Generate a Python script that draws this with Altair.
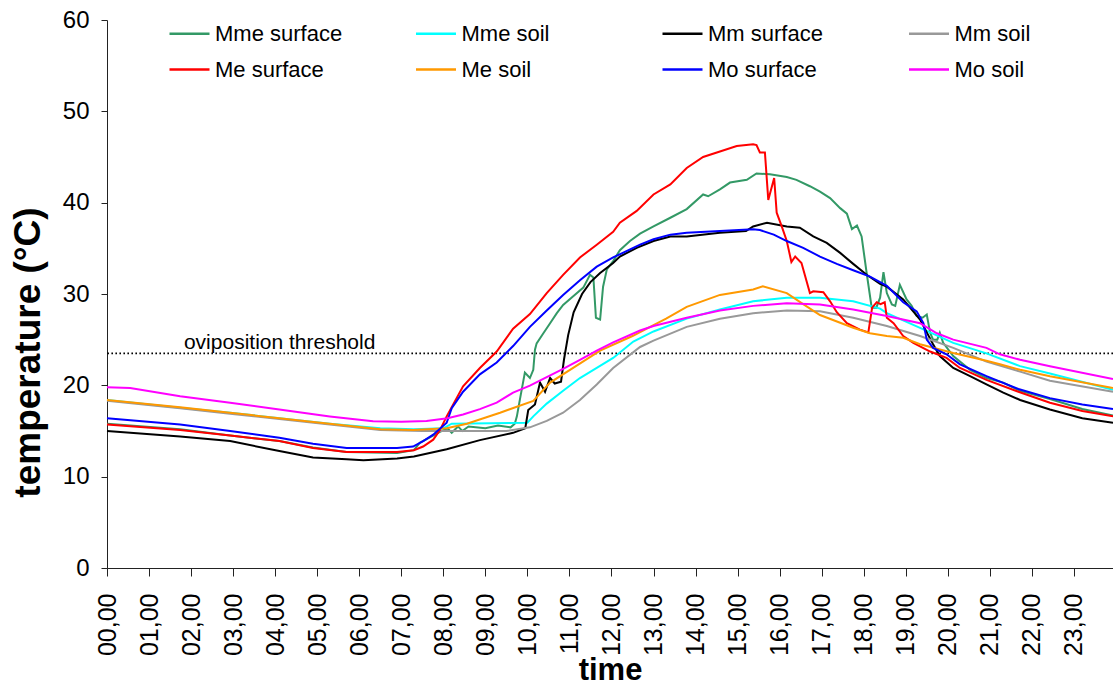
import altair as alt
import pandas as pd

FONT = "Liberation Sans"

SERIES = ["Mme surface", "Mme soil", "Mm surface", "Mm soil",
          "Me surface", "Me soil", "Mo surface", "Mo soil"]
COLORS = ["#339966", "#00FFFF", "#000000", "#999999",
          "#FF0000", "#FF9900", "#0000FF", "#FF00FF"]
# legend is filled column by column (2 rows x 4 columns)
LEGEND_ORDER = ["Mme surface", "Me surface", "Mme soil", "Me soil",
                "Mm surface", "Mo surface", "Mm soil", "Mo soil"]

HOUR_TICKS = list(range(24))
TEMP_TICKS = [0, 10, 20, 30, 40, 50, 60]
THRESHOLD = [23.5]
THRESHOLD_LABEL = ["oviposition threshold"]

# hours of day, temperatures (degC)
MME_SURF_T = [0, 1.74, 2.93, 4.1, 4.9, 5.7, 6.9, 7.3, 7.44, 7.68, 7.92, 8.1, 8.2, 8.35, 8.45, 8.6,
              9.0, 9.3, 9.6, 9.7, 9.75, 9.82, 9.94, 10.06, 10.14, 10.18, 10.22, 10.38, 10.54, 10.7, 10.85, 11.09,
              11.33, 11.49, 11.57, 11.63, 11.73, 11.8, 11.89, 12.04, 12.2, 12.44, 12.68, 13.0, 13.4, 13.79, 14.18, 14.3,
              14.58, 14.82, 15.22, 15.45, 15.77, 16.17, 16.4, 16.72, 16.96, 17.2, 17.44, 17.6, 17.72, 17.84, 17.95, 18.07,
              18.19, 18.3, 18.39, 18.47, 18.55, 18.67, 18.75, 18.86, 19.02, 19.14, 19.26, 19.4, 19.5, 19.58, 19.65, 19.75,
              19.81, 19.89, 20.13, 20.53, 20.92, 21.32, 21.72, 22.43, 23.2, 23.93]
MME_SURF_V = [15.8, 15.2, 14.5, 13.9, 13.2, 12.7, 12.6, 12.9, 13.7, 14.3, 14.9, 15.3, 14.8, 15.5, 15.0, 15.5,
              15.3, 15.6, 15.4, 15.8, 16.6, 18.4, 21.4, 20.8, 21.7, 23.9, 24.6, 25.7, 26.8, 27.9, 28.8, 29.75,
              30.7, 32.1, 31.8, 27.4, 27.2, 30.8, 32.7, 33.6, 34.8, 35.8, 36.6, 37.4, 38.35, 39.3, 40.9, 40.7,
              41.45, 42.2, 42.5, 43.2, 43.1, 42.8, 42.5, 41.8, 41.2, 40.5, 39.4, 38.8, 37.1, 37.5, 36.3, 32.3,
              28.5, 28.5, 29.6, 32.4, 30.1, 28.85, 28.7, 31.0, 29.4, 28.7, 27.6, 27.4, 27.75, 25.75, 25.0, 25.0,
              25.75, 24.65, 23.2, 21.7, 20.8, 20.3, 19.4, 18.5, 17.4, 16.7]

MME_SOIL_T = [0, 1.74, 2.93, 4.1, 5.3, 6.5, 7.3, 8.0, 8.2, 10.0, 10.14, 10.46, 10.85, 11.25, 11.65, 12.04,
              12.52, 13.0, 13.79, 14.58, 15.37, 16.17, 16.96, 17.75, 18.39, 18.55, 19.34, 20.13, 20.92, 21.72, 22.43, 23.93]
MME_SOIL_V = [18.4, 17.55, 17.0, 16.4, 15.8, 15.3, 15.2, 15.3, 15.8, 15.9, 16.6, 18.0, 19.4, 20.8, 21.9, 23.0,
              24.8, 25.9, 27.3, 28.3, 29.2, 29.6, 29.6, 29.2, 28.4, 27.9, 26.3, 24.65, 23.5, 22.1, 21.3, 19.5]

MM_SURF_T = [0, 1.74, 2.93, 4.1, 4.9, 5.7, 6.1, 6.9, 7.3, 8.08, 8.87, 9.66, 9.95, 10.02, 10.18, 10.3,
             10.42, 10.54, 10.65, 10.8, 10.87, 10.97, 11.1, 11.3, 11.5, 11.73, 12.04, 12.2, 12.6, 13.0, 13.4, 13.79,
             14.58, 15.2, 15.37, 15.7, 16.17, 16.48, 16.8, 17.12, 17.44, 17.75, 18.07, 18.39, 18.55, 18.94, 19.34, 19.5,
             19.65, 19.81, 20.13, 20.53, 20.92, 21.32, 21.72, 22.43, 23.2, 23.93]
MM_SURF_V = [15.0, 14.4, 13.9, 12.8, 12.1, 11.9, 11.8, 12.0, 12.2, 13.0, 14.0, 14.8, 15.3, 17.3, 17.9, 20.3,
             19.3, 20.8, 20.2, 20.4, 22.8, 25.5, 28.0, 30.0, 31.3, 32.3, 33.4, 34.1, 35.05, 35.8, 36.3, 36.3,
             36.7, 36.9, 37.4, 37.8, 37.4, 37.25, 36.3, 35.6, 34.5, 33.3, 32.1, 31.1, 30.8, 29.4, 27.2, 25.8,
             24.5, 23.2, 21.9, 21.0, 20.1, 19.2, 18.4, 17.35, 16.4, 15.9]

MM_SOIL_T = [0, 1.74, 2.93, 4.1, 5.3, 6.5, 7.5, 9.5, 10.06, 10.46, 10.85, 11.25, 11.65, 12.04, 12.68, 13.0,
             13.79, 14.58, 15.37, 16.17, 16.96, 17.75, 18.55, 19.34, 20.13, 20.92, 21.72, 22.43, 23.93]
MM_SOIL_V = [18.3, 17.5, 16.9, 16.3, 15.7, 15.1, 15.0, 15.0, 15.4, 16.1, 17.0, 18.4, 20.1, 21.9, 24.2, 24.9,
             26.4, 27.3, 27.9, 28.2, 28.1, 27.4, 26.5, 25.4, 24.1, 22.6, 21.5, 20.5, 19.3]

ME_SURF_T = [0, 1.74, 2.93, 4.1, 4.9, 5.7, 6.9, 7.3, 7.52, 7.76, 7.92, 8.08, 8.47, 8.87, 9.27, 9.66,
             10.06, 10.46, 10.85, 11.25, 11.65, 12.04, 12.2, 12.6, 13.0, 13.4, 13.79, 14.18, 14.58, 14.98, 15.37, 15.45,
             15.53, 15.65, 15.73, 15.87, 15.93, 16.05, 16.17, 16.28, 16.37, 16.52, 16.72, 16.8, 17.04, 17.2, 17.36, 17.6,
             17.91, 18.11, 18.2, 18.31, 18.4, 18.5, 18.55, 18.71, 18.94, 19.18, 19.58, 19.97, 20.29, 20.92, 21.68, 22.43,
             23.2, 23.93]
ME_SURF_V = [15.7, 15.1, 14.5, 13.9, 13.15, 12.7, 12.7, 12.9, 13.3, 14.05, 15.1, 16.6, 19.9, 21.9, 23.7, 26.2,
             27.8, 30.1, 32.1, 34.0, 35.4, 36.8, 37.8, 39.1, 40.9, 42.0, 43.8, 45.0, 45.6, 46.2, 46.4, 46.3,
             45.5, 45.5, 40.3, 42.7, 38.9, 37.4, 35.8, 33.5, 34.1, 33.4, 30.1, 30.3, 30.2, 29.2, 28.0, 26.8,
             26.1, 25.8, 28.5, 29.1, 28.9, 29.1, 27.4, 26.8, 25.4, 24.65, 23.7, 23.0, 21.9, 20.6, 19.3, 18.1,
             17.2, 16.6]

ME_SOIL_T = [0, 1.74, 2.93, 4.1, 5.3, 6.5, 7.28, 8.08, 8.56, 9.35, 10.14, 10.54, 11.73, 12.5, 13.0, 13.3,
             13.79, 14.58, 15.37, 15.6, 16.17, 16.56, 16.96, 17.75, 18.15, 18.55, 18.94, 19.34, 20.13, 20.92, 21.24, 21.72,
             22.43, 23.93]
ME_SOIL_V = [18.4, 17.6, 17.0, 16.4, 15.8, 15.2, 15.1, 15.3, 15.8, 17.0, 18.3, 20.3, 23.8, 25.4, 26.6, 27.3,
             28.6, 29.9, 30.5, 30.85, 30.1, 28.9, 27.7, 26.3, 25.7, 25.4, 25.2, 24.5, 23.55, 22.7, 22.3, 21.7,
             21.0, 19.7]

MO_SURF_T = [0, 1.74, 2.93, 4.1, 4.9, 5.7, 6.9, 7.28, 7.52, 7.76, 8.08, 8.2, 8.47, 8.87, 9.27, 9.66,
             10.06, 10.46, 10.85, 11.25, 11.65, 12.04, 12.68, 13.0, 13.4, 13.79, 14.58, 15.37, 15.53, 15.86, 16.17, 16.56,
             16.96, 17.36, 17.75, 18.15, 18.55, 18.94, 19.26, 19.42, 19.5, 19.65, 19.97, 20.29, 20.92, 21.68, 22.43, 23.2,
             23.93]
MO_SURF_V = [16.4, 15.7, 15.0, 14.25, 13.6, 13.15, 13.15, 13.3, 13.9, 14.6, 15.9, 17.5, 19.3, 21.2, 22.5, 24.3,
             26.4, 28.2, 29.9, 31.5, 33.0, 34.0, 35.4, 36.0, 36.5, 36.7, 36.9, 37.1, 37.0, 36.5, 35.8, 35.05,
             34.1, 33.3, 32.6, 31.9, 30.9, 29.1, 28.1, 26.8, 25.0, 24.1, 23.4, 22.3, 21.0, 19.6, 18.6, 17.9,
             17.4]

MO_SOIL_T = [0, 0.55, 1.74, 2.93, 4.1, 5.3, 6.33, 7.0, 7.6, 8.1, 8.47, 8.87, 9.27, 9.66, 10.06, 10.46,
             10.85, 11.25, 11.65, 12.04, 12.68, 13.0, 13.79, 14.58, 15.37, 16.17, 16.96, 17.75, 18.55, 19.34, 19.74, 20.13,
             20.92, 21.24, 21.72, 22.43, 23.93]
MO_SOIL_V = [19.8, 19.7, 18.8, 18.1, 17.35, 16.6, 16.06, 16.0, 16.1, 16.4, 16.8, 17.4, 18.1, 19.2, 19.97, 20.9,
             21.8, 22.8, 23.8, 24.7, 26.0, 26.5, 27.4, 28.2, 28.7, 29.0, 28.85, 28.3, 27.6, 26.8, 25.7, 25.0,
             24.1, 23.4, 22.8, 22.1, 20.7]

PAIRS = [(MME_SURF_T, MME_SURF_V), (MME_SOIL_T, MME_SOIL_V), (MM_SURF_T, MM_SURF_V), (MM_SOIL_T, MM_SOIL_V),
         (ME_SURF_T, ME_SURF_V), (ME_SOIL_T, ME_SOIL_V), (MO_SURF_T, MO_SURF_V), (MO_SOIL_T, MO_SOIL_V)]

rows = []
for name, (ts, vs) in zip(SERIES, PAIRS):
    if len(ts) != len(vs):
        raise ValueError(f"{name}: {len(ts)} times vs {len(vs)} values")
    for i, (t, v) in enumerate(zip(ts, vs)):
        rows.append({"series": name, "hour": t, "temp": v, "idx": i})
df = pd.DataFrame(rows)

color_of = dict(zip(SERIES, COLORS))
legend_colors = [color_of[s] for s in LEGEND_ORDER]

x_scale = alt.Scale(domain=[0, 23.93], nice=False, zero=False)
y_scale = alt.Scale(domain=[0, 60], nice=False)

x_axis = alt.Axis(
    values=HOUR_TICKS,
    labelExpr="(datum.value < 10 ? '0' : '') + datum.value + ',00'",
    labelAngle=270, labelFontSize=25, labelFont=FONT, labelColor="black",
    labelPadding=17, labelOverlap=False, labelFlush=False,
    tickSize=8, tickColor="#222222", domainColor="#222222", grid=False,
    title="time", titleFont=FONT, titleFontSize=31, titleFontWeight="bold",
    titleColor="black", titlePadding=0,
)
y_axis = alt.Axis(
    values=TEMP_TICKS, labelFontSize=24, labelFont=FONT, labelColor="black",
    labelPadding=12, tickSize=6, tickColor="#222222", domainColor="#222222", grid=False,
    title="temperature (°C)", titleFont=FONT, titleFontSize=37, titleFontWeight="bold",
    titleColor="black", titleX=-60, titleY=332,
)

legend = alt.Legend(
    title=None, orient="none", legendX=71, legendY=2, columns=4, gridAlign="all",
    symbolType="M-2,0H2", symbolSize=400, symbolStrokeWidth=2.5,
    labelFont=FONT, labelFontSize=22, labelColor="black", labelOffset=14,
    columnPadding=67.5, rowPadding=13, padding=0,
)

lines = alt.Chart(df).mark_line(strokeWidth=2, interpolate="linear").encode(
    x=alt.X("hour:Q", scale=x_scale, axis=x_axis),
    y=alt.Y("temp:Q", scale=y_scale, axis=y_axis),
    color=alt.Color("series:N", scale=alt.Scale(domain=LEGEND_ORDER, range=legend_colors), legend=legend),
    order="idx:Q",
)

thr_df = pd.DataFrame({"temp": THRESHOLD, "label": THRESHOLD_LABEL, "hour": [1.83]})
rule = alt.Chart(thr_df).mark_rule(color="black", strokeWidth=1.6, strokeDash=[1.6, 2.4]).encode(
    y=alt.Y("temp:Q", scale=y_scale),
)
label = alt.Chart(thr_df).mark_text(
    align="left", baseline="alphabetic", dy=-4, font=FONT, fontSize=21, color="black"
).encode(
    x=alt.X("hour:Q", scale=x_scale),
    y=alt.Y("temp:Q", scale=y_scale),
    text="label:N",
)

chart = alt.layer(rule, label, lines).properties(
    width=1006, height=548,
    padding={"left": 107, "top": 20, "right": 0, "bottom": 118},
    autosize=alt.AutoSizeParams(type="none"),
    background="white",
).configure_view(stroke=None)

chart.save("out.html", embed_options={"renderer": "svg", "actions": False})
